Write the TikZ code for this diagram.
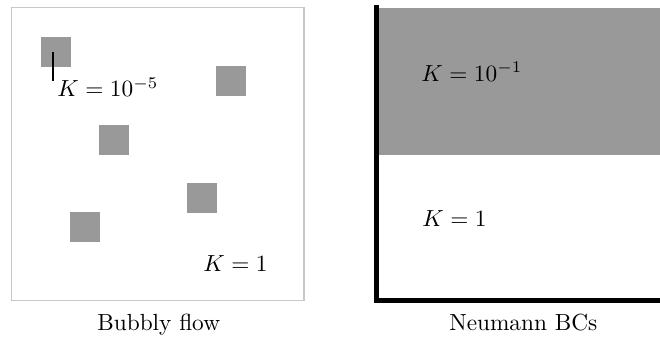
\documentclass[tikz,border=0pt]{standalone}
\begin{document}
\begin{tikzpicture}[x=0.429pt,y=-0.429pt,
  bubble/.style={fill=black!40, draw=none},
  lbl/.style={inner sep=0pt, anchor=base west},
  captxt/.style={inner sep=0pt, anchor=base},
  wall/.style={line width=2.2pt, line cap=rect, line join=miter}]
\useasboundingbox (0,0) rectangle (660,338);
% left panel
\draw[black!22, line width=0.5pt] (11.5,7.5) rectangle (304,300.5);
\fill[bubble] (41,37) rectangle (71,67);
\fill[bubble] (216,66) rectangle (246,96);
\fill[bubble] (99,125) rectangle (129,155);
\fill[bubble] (187,183) rectangle (217,213);
\fill[bubble] (70,212) rectangle (100,242);
\coordinate (pt) at (53,52);
\coordinate (pb) at (53,81);
\draw[line width=0.8pt] (pt) -- (pb);
\node[lbl] (k5) at (57,96.7) {$K=10^{-5}$};
\node[lbl] (k1a) at (203,271) {$K=1$};
\node[captxt] (c1) at (158.7,330.7) {Bubbly flow};
% right panel
\fill[black!40] (378,8) rectangle (660,155);
\draw[wall] (376.5,8) -- (376.5,300.8) -- (662,300.8);
\node[lbl] (k01) at (421,81.3) {$K=10^{-1}$};
\node[lbl] (k1b) at (422,226.7) {$K=1$};
\node[captxt] (c2) at (523.3,330.7) {Neumann BCs};
\end{tikzpicture}
\end{document}
